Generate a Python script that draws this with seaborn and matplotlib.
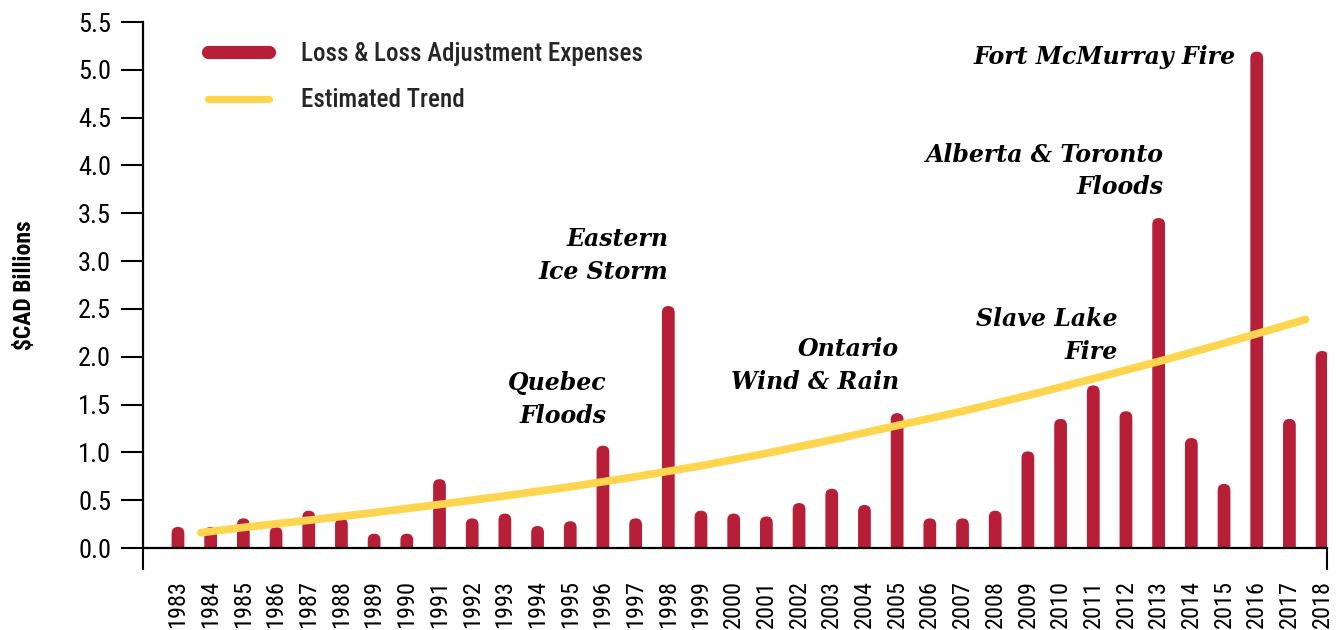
import matplotlib
matplotlib.use("Agg")
import matplotlib.pyplot as plt
from matplotlib.patches import FancyBboxPatch
from matplotlib.lines import Line2D
import seaborn as sns
import pandas as pd

# ---- data ----
years = list(range(1983, 2019))
losses = [0.22, 0.22, 0.31, 0.22, 0.39, 0.31, 0.15, 0.15, 0.72, 0.31,
          0.36, 0.23, 0.28, 1.07, 0.31, 2.53, 0.39, 0.36, 0.33, 0.47,
          0.62, 0.45, 1.41, 0.31, 0.31, 0.39, 1.01, 1.35, 1.70, 1.43,
          3.45, 1.15, 0.67, 5.19, 1.35, 2.06]
trend_years = [1983.7, 1985, 1987, 1989, 1991, 1993, 1995, 1997, 1999,
               2001, 2003, 2005, 2007, 2009, 2011, 2013, 2015, 2016, 2017.5]
trend_vals = [0.16, 0.215, 0.29, 0.37, 0.455, 0.545, 0.64, 0.745, 0.86,
              0.99, 1.13, 1.28, 1.43, 1.595, 1.77, 1.95, 2.14, 2.24, 2.39]
y_ticks = [0.0, 0.5, 1.0, 1.5, 2.0, 2.5, 3.0, 3.5, 4.0, 4.5, 5.0, 5.5]
events = ["Quebec\nFloods", "Eastern\nIce Storm", "Ontario\nWind & Rain",
          "Slave Lake\nFire", "Alberta & Toronto\nFloods", "Fort McMurray Fire"]
event_x = [1996.1, 1998.0, 2005.05, 2011.75, 2013.15, 2015.35]
event_y = [1.55, 3.06, 1.91, 2.22, 3.94, 5.13]
series_names = ["Loss & Loss Adjustment Expenses", "Estimated Trend"]

RED = "#B71E38"
YEL = "#FDD54E"
SANS = ["Liberation Sans Narrow", "Roboto Condensed", "DejaVu Sans"]
SERIF = ["DejaVu Serif"]

sns.set_theme(style="white")
plt.rcParams["font.family"] = SANS

fig = plt.figure(figsize=(13.38, 6.30), dpi=100)
ax = fig.add_axes([143 / 1338, 1 - 548 / 630, (1327 - 143) / 1338, (548 - 22) / 630])

XMIN, XMAX = 1981.93, 2018.15
YMIN, YMAX = 0.0, 5.5

df = pd.DataFrame({"year": years, "loss": losses})
sns.barplot(data=df, x="year", y="loss", native_scale=True, color=RED,
            saturation=1, width=0.39, ax=ax, zorder=2)

ax.set_xlim(XMIN, XMAX)
ax.set_ylim(YMIN, YMAX)

# round the bar tops
fig.canvas.draw()
bb = ax.get_window_extent()
aspect = ((YMAX - YMIN) / bb.height) / ((XMAX - XMIN) / bb.width)
for p in list(ax.patches):
    x0, w, h = p.get_x(), p.get_width(), p.get_height()
    r = w / 2
    ry = r * aspect
    p.remove()
    fb = FancyBboxPatch((x0, -ry), w, h + ry,
                        boxstyle=f"round,pad=0,rounding_size={r}",
                        mutation_aspect=aspect, facecolor=RED,
                        edgecolor="none", zorder=2)
    ax.add_patch(fb)

tdf = pd.DataFrame({"year": trend_years, "trend": trend_vals})
sns.lineplot(data=tdf, x="year", y="trend", color=YEL, linewidth=5.6,
             ax=ax, zorder=3)
for ln in ax.lines:
    ln.set_solid_capstyle("round")
    ln.set_solid_joinstyle("round")

# axes styling
for s in ["top", "right"]:
    ax.spines[s].set_visible(False)
for s in ["left", "bottom"]:
    ax.spines[s].set_color("black")
    ax.spines[s].set_linewidth(1.6)

ax.set_yticks(y_ticks)
ax.set_yticklabels([f"{v:.1f}" for v in y_ticks])
ax.tick_params(axis="y", direction="out", length=16, width=1.5, color="black",
               pad=7, labelsize=19, left=True)
ax.set_xticks(years)
ax.set_xticklabels([str(y) for y in years], rotation=90)
ax.tick_params(axis="x", which="major", length=0, pad=23, labelsize=17.5)
ax.set_xticks([XMIN] + [y for y in years if y % 2 == 1] + [XMAX], minor=True)
ax.tick_params(axis="x", which="minor", direction="out", length=16, width=1.5,
               color="black", bottom=True)
for lab in ax.get_xticklabels() + ax.get_yticklabels():
    lab.set_fontfamily(SANS)
    lab.set_color("black")

ax.set_xlabel("")
ax.set_ylabel("$CAD Billions", fontsize=17, fontweight="bold", labelpad=30,
              family=SANS, color="black")
ax.grid(False)

# annotations
for txt, xx, yy in zip(events, event_x, event_y):
    ax.text(xx, yy, txt, ha="right", va="center", multialignment="right",
            fontsize=17, fontweight="bold", fontstyle="italic", family=SERIF,
            color="black", linespacing=1.45, zorder=4)

handles = [Line2D([0], [0], color=RED, linewidth=9.5, solid_capstyle="round"),
           Line2D([0], [0], color=YEL, linewidth=5.2, solid_capstyle="round")]
leg = ax.legend(handles, series_names, loc="upper left",
                bbox_to_anchor=(0.055, 0.962), frameon=False, fontsize=18,
                handlelength=2.45, handletextpad=1.25, labelspacing=0.9,
                borderpad=0, borderaxespad=0)
for t in leg.get_texts():
    t.set_fontfamily(SANS)
    t.set_fontweight("medium")

fig.savefig("out.png", dpi=100)
